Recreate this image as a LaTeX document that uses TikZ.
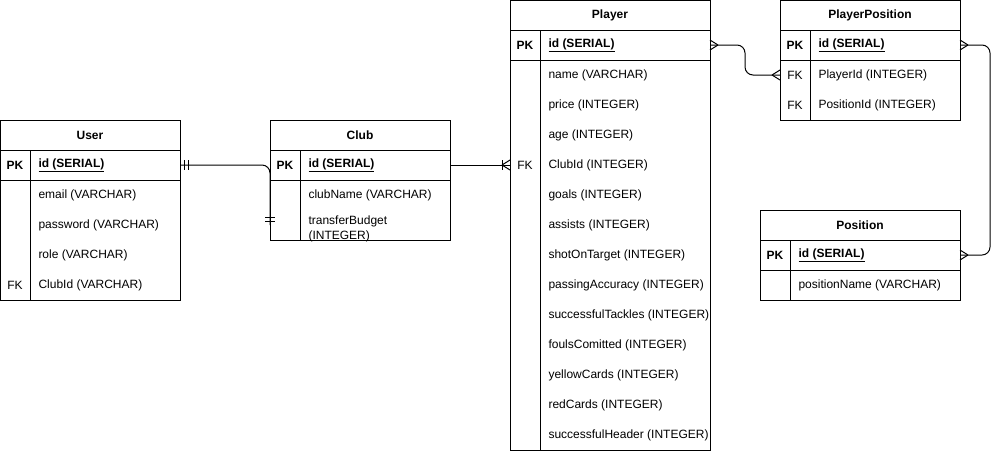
\documentclass[tikz,border=0pt]{standalone}
\usepackage{fontspec}
\setmainfont{Liberation Sans}
\usetikzlibrary{calc}
\def\crowfoot(#1)(#2:#3){\draw ($(#1)+(#2,0)$) -- ($(#1)+(0,#3)$) ($(#1)+(#2,0)$) -- ($(#1)+(0,-#3)$);}
\def\crossbar(#1)(#2){\draw ($(#1)+(#2,-5)$) -- ($(#1)+(#2,5)$);}

\begin{document}
\begin{tikzpicture}[x=1pt,y=-1pt,line width=1pt,
	every node/.style={font=\fontsize{12}{14}\selectfont,inner sep=0pt},
	ttl/.style={font=\fontsize{12}{14}\selectfont\bfseries},
	pkmark/.style={font=\fontsize{12}{14}\selectfont\bfseries},
	pkey/.style={font=\fontsize{12}{14}\selectfont\bfseries,anchor=west},
	attr/.style={anchor=west}]
		%%%%% START %%%%%
		\useasboundingbox (0,0) rectangle (1000,451);
		
		%%%%% User
		\draw (0,120) rectangle (180,300);
		\draw (0,150) -- (180,150) (0,180) -- (180,180) (30,150) -- (30,300);
		\node[ttl] (user) at (90,135) {User};
		\node[pkmark] (userpk) at (15,165) {PK};
		\node[pkey] (userid) at (38,165) {\underline{id (SERIAL)}};
		\foreach \txt [count=\i] in {{email (VARCHAR)},{password (VARCHAR)},{role (VARCHAR)},{ClubId (VARCHAR)}}
			\node[attr] (user\i) at (38,{165+30*\i}) {\txt};
		\node (userfk) at (15,285) {FK};
		
		%%%%% Club
		\draw (270,120) rectangle (450,240);
		\draw (270,150) -- (450,150) (270,180) -- (450,180) (300,150) -- (300,240);
		\node[ttl] (club) at (360,135) {Club};
		\node[pkmark] (clubpk) at (285,165) {PK};
		\node[pkey] (clubid) at (308,165) {\underline{id (SERIAL)}};
		\node[attr] (club1) at (308,195) {clubName (VARCHAR)};
		\node[attr,align=left,font=\fontsize{12}{15}\selectfont] (club2) at (308,228.5) {transferBudget\\(INTEGER)};
		
		%%%%% Player
		\draw (510,0) rectangle (710,450);
		\draw (510,30) -- (710,30) (510,60) -- (710,60) (540,30) -- (540,450);
		\node[ttl] (player) at (610,15) {Player};
		\node[pkmark] (playerpk) at (525,45) {PK};
		\node[pkey] (playerid) at (548,45) {\underline{id (SERIAL)}};
		\foreach \txt [count=\i] in {{name (VARCHAR)},{price (INTEGER)},{age (INTEGER)},{ClubId (INTEGER)},
			{goals (INTEGER)},{assists (INTEGER)},{shotOnTarget (INTEGER)},{passingAccuracy (INTEGER)},
			{successfulTackles (INTEGER)},{foulsComitted (INTEGER)},{yellowCards (INTEGER)},
			{redCards (INTEGER)},{successfulHeader (INTEGER)}}
			\node[attr] (player\i) at (548,{45+30*\i}) {\txt};
		\node (playerfk) at (525,165) {FK};
		
		%%%%% PlayerPosition
		\draw (780,0) rectangle (960,120);
		\draw (780,30) -- (960,30) (780,60) -- (960,60) (810,30) -- (810,120);
		\node[ttl] (pp) at (870,15) {PlayerPosition};
		\node[pkmark] (pppk) at (795,45) {PK};
		\node[pkey] (ppid) at (818,45) {\underline{id (SERIAL)}};
		\node (ppfk1) at (795,75) {FK};
		\node[attr] (pp1) at (818,75) {PlayerId (INTEGER)};
		\node (ppfk2) at (795,105) {FK};
		\node[attr] (pp2) at (818,105) {PositionId (INTEGER)};
		
		%%%%% Position
		\draw (760,210) rectangle (960,300);
		\draw (760,240) -- (960,240) (760,270) -- (960,270) (790,240) -- (790,300);
		\node[ttl] (pos) at (860,225) {Position};
		\node[pkmark] (pospk) at (775,255) {PK};
		\node[pkey] (posid) at (798,255) {\underline{id (SERIAL)}};
		\node[attr] (pos1) at (798,285) {positionName (VARCHAR)};
		
		%%%%% connectors
		\coordinate (userR) at (180,165);
		\coordinate (clubL) at (270,225);
		\coordinate (clubR) at (450,165);
		\coordinate (playerL) at (510,165);
		\coordinate (playerR) at (710,45);
		\coordinate (ppL) at (780,75);
		\coordinate (ppR) at (960,45);
		\coordinate (posR) at (960,255);
		
		\draw[rounded corners=8pt] (userR) -- (clubL |- userR) -- (clubL);
		\crossbar(userR)(4) \crossbar(userR)(8)
		\draw ($(clubL)+(-5,-4)$) -- ($(clubL)+(5,-4)$) ($(clubL)+(-5,-8)$) -- ($(clubL)+(5,-8)$);
		
		\draw (clubR) -- (playerL);
		\crossbar(playerL)(-8) \crowfoot(playerL)(-8:5)
		
		\draw[rounded corners=8pt] (playerR) -- ($(playerR)!.5!(ppL |- playerR)$) |- (ppL);
		\crowfoot(playerR)(8:5) \crowfoot(ppL)(-8:5)
		
		\draw[rounded corners=8pt] (ppR) -- ++(30,0) |- (posR);
		\crowfoot(ppR)(8:5) \crowfoot(posR)(8:5)
		
		%%%%% END %%%%%
\end{tikzpicture}
\end{document}
